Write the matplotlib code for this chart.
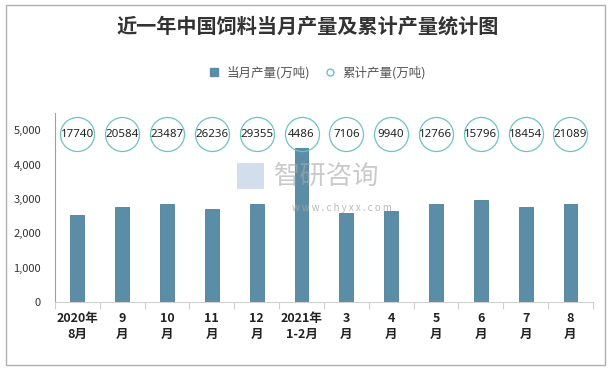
import matplotlib.pyplot as plt
import numpy as np
from matplotlib.lines import Line2D
from matplotlib.patches import Rectangle

plt.rcParams['font.family'] = ['Noto Sans CJK SC', 'DejaVu Sans']

# data
months = ['2020年\n8月', '9\n月', '10\n月', '11\n月', '12\n月', '2021年\n1-2月',
          '3\n月', '4\n月', '5\n月', '6\n月', '7\n月', '8\n月']
monthly = [2540, 2780, 2840, 2720, 2840, 4486, 2600, 2660, 2850, 2980, 2780, 2850]
cumulative = [17740, 20584, 23487, 26236, 29355, 4486, 7106, 9940, 12766, 15796, 18454, 21089]

bar_color = '#5b8da6'
circle_color = '#6cc4c0'

fig = plt.figure(figsize=(6.15, 3.71), dpi=100)
fig.patches.append(Rectangle((0.009, 0.015), 0.975, 0.972, transform=fig.transFigure,
                             fill=False, edgecolor='#b0b0b0', linewidth=1.0))

ax = fig.add_axes([0.0894, 0.186, 0.8746, 0.509])
x = np.arange(len(months))
ax.bar(x, monthly, width=0.31, color=bar_color, edgecolor='#4d7f98', linewidth=0.6, zorder=2)

# cumulative values shown as circles near the top of the plot
circle_y = [4880] * len(cumulative)
ax.plot(x, circle_y, linestyle='none', marker='o', markersize=24.5,
        markerfacecolor='none', markeredgecolor=circle_color, markeredgewidth=0.9, zorder=3)
for xi, yi, v in zip(x, circle_y, cumulative):
    ax.text(xi, yi, str(v), ha='center', va='center', fontsize=8.3,
            color='#222222', family=['Noto Sans', 'DejaVu Sans'], zorder=4)

ax.set_xlim(-0.5, len(months) - 0.5)
ax.set_ylim(0, 5500)
ax.set_yticks([0, 1000, 2000, 3000, 4000, 5000])
ax.set_yticklabels(['{:,}'.format(v) for v in [0, 1000, 2000, 3000, 4000, 5000]],
                   fontsize=8, color='#333333')
ax.tick_params(axis='y', length=0, pad=10)

ax.set_xticks(x)
ax.set_xticklabels(months, fontsize=9, fontweight='bold', color='#222222', linespacing=1.35)
ax.set_xticks(np.arange(-0.5, len(months)), minor=True)
ax.tick_params(axis='x', which='major', length=0, pad=7)
ax.tick_params(axis='x', which='minor', length=5, color='#d0d0d0', width=0.8)

for side in ['top', 'right']:
    ax.spines[side].set_visible(False)
ax.spines['left'].set_color('#a0a0a0')
ax.spines['bottom'].set_color('#d0d0d0')

# watermark
fig.text(0.445, 0.525, '智研咨询', fontsize=19, color='#a8a8a8', alpha=0.6,
         ha='left', va='center', zorder=5)
fig.text(0.475, 0.44, 'w w w . c h y x x . c o m', fontsize=7, color='#a8a8a8', alpha=0.8,
         ha='left', va='center', zorder=5)
fig.patches.append(Rectangle((0.385, 0.49), 0.045, 0.07, transform=fig.transFigure,
                             facecolor='#c8d6e8', edgecolor='none', alpha=0.8, zorder=1))

fig.text(0.5, 0.93, '近一年中国饲料当月产量及累计产量统计图', ha='center', va='center',
         fontsize=14.5, fontweight='bold', color='#333333')

handles = [Line2D([], [], linestyle='none', marker='s', markersize=6,
                  markerfacecolor=bar_color, markeredgecolor=bar_color),
           Line2D([], [], linestyle='none', marker='o', markersize=5,
                  markerfacecolor='none', markeredgecolor=circle_color)]
fig.legend(handles, ['当月产量(万吨)', '累计产量(万吨)'], loc='center', bbox_to_anchor=(0.51, 0.805),
           ncol=2, frameon=False, fontsize=9, handletextpad=0.0, columnspacing=0.6,
           labelcolor='#555555')

fig.savefig('out.png', dpi=100)
